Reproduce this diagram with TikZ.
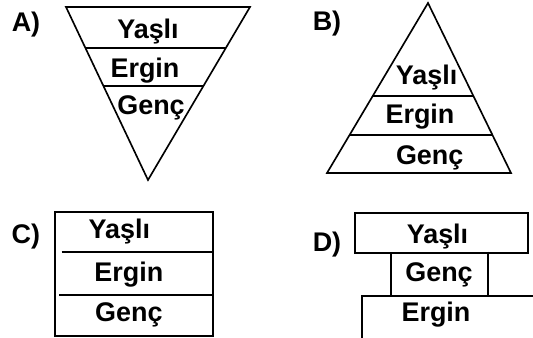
\documentclass[tikz,border=0pt]{standalone}
\usepackage{fontspec}
\setmainfont{Liberation Sans}
\usetikzlibrary{calc}

\begin{document}
\begin{tikzpicture}[x=0.3mm, y=-0.3mm, line width=1.4pt,
    lbl/.style={font=\fontsize{23}{27}\selectfont\bfseries, inner sep=0pt, anchor=base}]
\useasboundingbox (0,0) rectangle (533,338);

\node[lbl] (la) at (26,31.7) {A)};
\coordinate (a1) at (66,7);
\coordinate (a2) at (250,7);
\coordinate (a3) at (148,180);
\draw (a1) -- (a2) -- (a3) -- cycle;
\draw ($(a1)!0.237!(a3)$) -- ($(a2)!0.237!(a3)$);
\draw ($(a1)!0.457!(a3)$) -- ($(a2)!0.457!(a3)$);
\node[lbl] (ay) at (148,38.3) {Yaşlı};
\node[lbl] (ae) at (145,77.3) {Ergin};
\node[lbl] (ag) at (151,114.3) {Genç};

\node[lbl] (lb) at (327,30.7) {B)};
\coordinate (b1) at (428,3);
\coordinate (b2) at (327,173);
\coordinate (b3) at (511,173);
\draw (b1) -- (b2) -- (b3) -- cycle;
\draw ($(b1)!0.547!(b2)$) -- ($(b1)!0.547!(b3)$);
\draw ($(b1)!0.776!(b2)$) -- ($(b1)!0.776!(b3)$);
\node[lbl] (by) at (426.7,85) {Yaşlı};
\node[lbl] (be) at (420,123.3) {Ergin};
\node[lbl] (bg) at (429.7,165) {Genç};

\node[lbl] (lc) at (25.8,243.3) {C)};
\draw (55,212) rectangle (213,336);
\draw (61.5,252) -- (213,252);
\draw (59,295) -- (213,295);
\node[lbl] (cy) at (119.3,238.3) {Yaşlı};
\node[lbl] (ce) at (128.8,281.7) {Ergin};
\node[lbl] (cg) at (128.8,321.7) {Genç};

\node[lbl] (ld) at (327,251) {D)};
\draw (355,213) rectangle (528,253);
\draw (390.7,253) -- (390.7,296);
\draw (488,251.7) -- (488,296);
\draw (533,296) -- (361.7,296) -- (361.7,338);
\node[lbl] (dy) at (437.5,243.3) {Yaşlı};
\node[lbl] (dg) at (439,281.7) {Genç};
\node[lbl] (de) at (436,321.7) {Ergin};
\end{tikzpicture}
\end{document}
